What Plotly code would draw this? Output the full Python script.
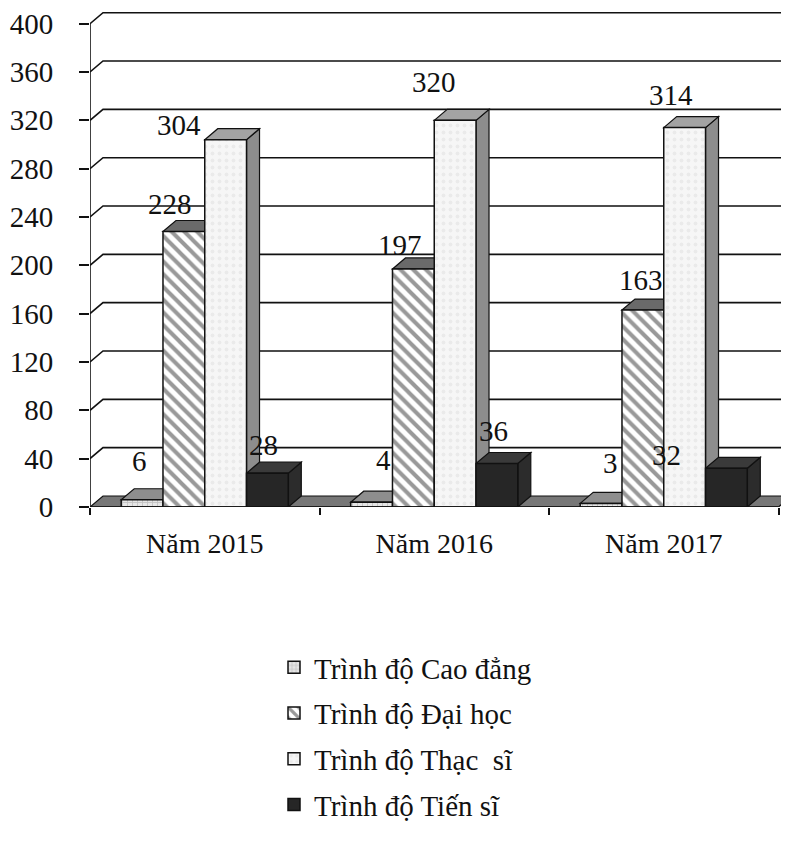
import plotly.graph_objects as go

# ---------------- data ----------------
categories = ["Năm 2015", "Năm 2016", "Năm 2017"]
series_names = ["Trình độ Cao đẳng", "Trình độ Đại học", "Trình độ Thạc\u00a0 sĩ", "Trình độ Tiến sĩ"]
cao_dang = [6, 4, 3]
dai_hoc = [228, 197, 163]
thac_si = [304, 320, 314]
tien_si = [28, 36, 32]
y_ticks = [0, 40, 80, 120, 160, 200, 240, 280, 320, 360, 400]

series_values = [cao_dang, dai_hoc, thac_si, tien_si]

# ---------------- style ----------------
BODY = 8  # default page margin of the HTML body
W, H = 789 - BODY, 853 - BODY
M_L, M_R, M_T, M_B = 90 - BODY, 0, 10 - BODY, 346
plot_w = W - M_L - M_R
plot_h = H - M_T - M_B
px_per_cat = 229.5
px_per_unit = 1.2083
x_range = [-0.5, -0.5 + plot_w / px_per_cat]
y_range = [0, plot_h / px_per_unit]
dx = 13 / px_per_cat          # depth in x units
dy = 11 / px_per_unit         # depth in y units
bargap = 0.272
bw = (1 - bargap) / 4

FONT = "Liberation Serif, Times New Roman, serif"
FS = 29

front_style = [
    dict(color="#d9d9d9", pattern=dict(shape="+", fgcolor="#9a9a9a", bgcolor="#e6e6e6", size=5, solidity=0.3)),
    dict(color="#ffffff", pattern=dict(shape="\\", fgcolor="#333333", bgcolor="#ffffff", size=9, solidity=0.45)),
    dict(color="#f4f4f4", pattern=dict(shape=".", fgcolor="#dedede", bgcolor="#f6f6f6", size=7, solidity=0.25)),
    dict(color="#262626"),
]
top_colors = ["#8e8e8e", "#6a6a6a", "#a3a3a3", "#3a3a3a"]
side_colors = ["#858585", "#7a7a7a", "#8d8d8d", "#2c2c2c"]

# label offsets in pixels (Excel 3-D label placement)
label_xshift = [[-3, 12, 9], [-14, -13, -2], [-47, -21, -14], [-4, -3, -60]]
label_yshift = [[39, 42, 40], [28, 24, 30], [15, 38, 33], [28, 33, 13]]

fig = go.Figure()
xs = list(range(len(categories)))

for s, (name, vals) in enumerate(zip(series_names, series_values)):
    st = front_style[s]
    marker = dict(color=st["color"], line=dict(color="#111111", width=1.5))
    if "pattern" in st:
        marker["pattern"] = st["pattern"]
    fig.add_trace(go.Bar(
        x=xs, y=vals, name=name, marker=marker,
        legendgroup=f"g{s}", hoverinfo="skip",
    ))

shapes = []
# back wall gridlines with 3-D offset
for v in y_ticks[1:]:
    shapes.append(dict(
        type="path", xref="x", yref="y", layer="below",
        path=f"M {x_range[0]},{v} L {x_range[0]+dx},{v+dy} L {x_range[1]},{v+dy}",
        line=dict(color="#111111", width=1.6),
    ))
# floor
shapes.append(dict(
    type="path", xref="x", yref="y", layer="below",
    path=f"M {-0.5},0 L {-0.5+dx},{dy} L {2.5+dx},{dy} L {2.5},0 Z",
    fillcolor="#777777", line=dict(color="#111111", width=1.2),
))
# top and side faces of bars
for c in xs:
    for s, vals in enumerate(series_values):
        v = vals[c]
        x0 = c - (1 - bargap) / 2 + s * bw
        x1 = x0 + bw
        shapes.append(dict(
            type="path", xref="x", yref="y", layer="below",
            path=f"M {x1},0 L {x1},{v} L {x1+dx},{v+dy} L {x1+dx},{dy} Z",
            fillcolor=side_colors[s], line=dict(color="#111111", width=1.2),
        ))
        shapes.append(dict(
            type="path", xref="x", yref="y", layer="below",
            path=f"M {x0},{v} L {x0+dx},{v+dy} L {x1+dx},{v+dy} L {x1},{v} Z",
            fillcolor=top_colors[s], line=dict(color="#111111", width=1.2),
        ))
# front axes
shapes.append(dict(type="line", xref="x", yref="y", layer="above",
                   x0=-0.5, x1=2.5, y0=0, y1=0, line=dict(color="#111111", width=1.6)))
shapes.append(dict(type="line", xref="x", yref="y", layer="above",
                   x0=-0.5, x1=-0.5, y0=0, y1=y_ticks[-1], line=dict(color="#111111", width=1.6)))

annotations = []
for s, vals in enumerate(series_values):
    for c in xs:
        xc = c - (1 - bargap) / 2 + (s + 0.5) * bw
        annotations.append(dict(
            x=xc, y=vals[c], xref="x", yref="y", text=str(vals[c]), showarrow=False,
            xshift=label_xshift[s][c], yshift=label_yshift[s][c],
            font=dict(family=FONT, size=FS, color="#111111"),
        ))

fig.update_layout(
    width=W, height=H,
    margin=dict(l=M_L, r=M_R, t=M_T, b=M_B, autoexpand=False),
    paper_bgcolor="white", plot_bgcolor="white",
    barmode="group", bargap=bargap, bargroupgap=0,
    shapes=shapes, annotations=annotations,
    font=dict(family=FONT, size=FS, color="#111111"),
    showlegend=True,
    legend=dict(
        orientation="v", xref="container", yref="container",
        x=(274 - BODY) / W, y=1 - (642 - BODY) / H, xanchor="left", yanchor="top",
        font=dict(family=FONT, size=FS, color="#111111"),
        tracegroupgap=5, bgcolor="rgba(0,0,0,0)", traceorder="grouped",
    ),
    xaxis=dict(
        range=x_range, tickmode="array", tickvals=xs, ticktext=categories,
        ticks="", showgrid=False, zeroline=False, showline=False,
        automargin=False, tickangle=0,
        ticklabelstandoff=17,
        minor=dict(tickmode="array", tickvals=[-0.5, 0.5, 1.5, 2.5], ticks="outside",
                   ticklen=7, tickwidth=1.5, tickcolor="#111111", showgrid=False),
        tickfont=dict(family=FONT, size=FS - 1, color="#111111"),
    ),
    yaxis=dict(
        range=y_range, tickmode="array", tickvals=y_ticks,
        ticks="outside", ticklen=10, tickwidth=1.5, tickcolor="#111111",
        showgrid=False, zeroline=False, showline=False, automargin=False,
        ticklabelstandoff=20, ticklabeloverflow="allow",
        tickfont=dict(family=FONT, size=FS, color="#111111"),
    ),
)

fig.write_html("out.html")
